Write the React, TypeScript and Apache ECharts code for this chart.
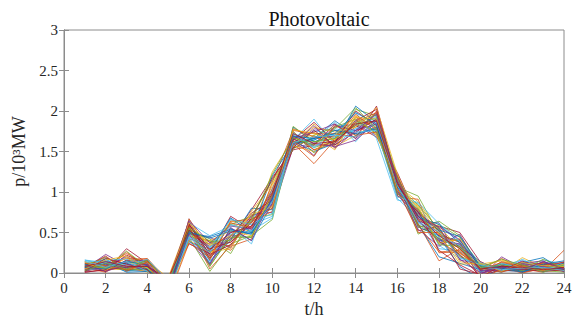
import React, { useEffect, useRef } from "react";
import * as echarts from "echarts";

const hours = [1, 2, 3, 4, 5, 6, 7, 8, 9, 10, 11, 12, 13, 14, 15, 16, 17, 18, 19, 20, 21, 22, 23, 24];

const r1 = [0.06,0.12,0.03,0.08,-0.12,0.55,0.18,0.52,0.48,0.92,1.58,1.66,1.72,1.76,1.90,1.04,0.74,0.41,0.33,0.02,0.06,0.03,0.08,0.04];
const r2 = [0.14,0.03,0.26,0.05,-0.22,0.42,0.36,0.38,0.66,0.80,1.70,1.52,1.60,1.92,1.78,1.15,0.58,0.55,0.20,0.08,0.02,0.10,0.03,0.28];
const r3 = [0.02,0.08,0.10,0.15,-0.06,0.63,0.22,0.60,0.52,1.08,1.62,1.74,1.56,1.70,1.85,0.98,0.82,0.36,0.42,-0.04,0.09,0.04,0.12,0.06];
const r4 = [0.09,0.20,0.05,0.02,-0.28,0.48,0.44,0.31,0.72,0.75,1.55,1.60,1.80,1.84,1.70,1.20,0.63,0.62,0.16,0.11,0.03,0.15,0.02,0.09];
const r5 = [0.04,0.06,0.14,0.10,-0.17,0.58,0.08,0.47,0.44,0.98,1.75,1.48,1.66,2.02,1.94,1.06,0.95,0.48,0.38,0.01,0.12,0.02,0.06,0.03];
const r6 = [0.16,0.10,0.02,0.06,-0.09,0.38,0.30,0.66,0.60,0.70,1.64,1.90,1.58,1.78,1.82,0.92,0.68,0.30,0.27,0.06,0.05,0.08,0.16,0.11];
const r7 = [0.07,0.02,0.30,0.12,-0.33,0.67,0.26,0.42,0.78,1.18,1.52,1.58,1.84,1.66,2.06,1.12,0.52,0.58,0.50,0.13,0.04,0.01,0.05,0.02];
const r8 = [0.11,0.15,0.07,0.04,-0.14,0.52,0.12,0.55,0.40,0.86,1.80,1.62,1.70,1.88,1.74,1.02,0.77,0.44,0.08,-0.08,0.07,0.12,0.09,0.07];
const r9 = [0.03,0.09,0.18,0.17,-0.20,0.45,0.40,0.28,0.58,0.94,1.60,1.35,1.64,1.80,1.88,1.18,0.61,0.15,0.30,0.04,0.18,0.05,0.01,0.12];
const r10 = [0.12,0.05,0.04,0.08,-0.07,0.60,0.20,0.62,0.50,1.25,1.66,1.70,1.52,1.94,1.80,1.08,0.88,0.52,0.24,0.09,0.02,0.19,0.07,0.05];
const r11 = [0.05,0.23,0.09,0.03,-0.25,0.50,0.33,0.45,0.70,0.82,1.57,1.78,1.76,1.72,1.98,0.96,0.70,0.40,0.36,0.00,0.06,0.04,0.14,0.08];
const r12 = [0.08,0.07,0.12,0.14,-0.11,0.44,0.02,0.36,0.46,0.66,1.68,1.55,1.62,1.86,1.76,1.14,0.48,0.60,0.44,0.05,0.10,0.07,0.03,0.01];
const r13 = [0.15,0.11,0.06,0.07,-0.30,0.62,0.46,0.58,0.64,1.02,1.72,1.64,1.86,1.62,1.92,1.00,0.80,0.34,0.18,0.12,0.03,0.02,0.10,0.10];
const r14 = [0.01,0.04,0.22,0.11,-0.15,0.36,0.24,0.70,0.54,0.88,1.54,1.68,1.68,1.82,1.68,1.24,0.66,0.50,0.05,-0.02,0.14,0.09,0.04,0.06];
const r15 = [0.10,0.17,0.03,0.05,-0.19,0.56,0.15,0.40,0.80,0.78,1.63,1.50,1.60,2.06,1.86,1.10,0.57,0.46,0.40,0.07,0.01,0.13,0.19,0.03];
const r16 = [0.06,0.01,0.15,0.18,-0.10,0.50,0.38,0.33,0.42,1.12,1.76,1.72,1.72,1.68,2.00,0.94,0.91,0.25,0.26,0.03,0.08,0.00,0.06,0.14];
const r17 = [0.13,0.13,0.08,0.01,-0.24,0.66,0.28,0.64,0.62,0.84,1.59,1.84,1.54,1.90,1.72,1.16,0.72,0.56,0.14,0.10,0.05,0.11,0.02,0.04];
const r18 = [0.02,0.08,0.20,0.09,-0.08,0.41,0.10,0.50,0.56,0.96,1.67,1.45,1.82,1.76,1.84,1.04,0.64,0.42,0.35,-0.06,0.20,0.06,0.08,0.07];
const r19 = [0.09,0.19,0.05,0.13,-0.27,0.54,0.42,0.24,0.68,0.72,1.81,1.62,1.66,1.84,1.96,1.20,0.56,0.64,0.46,0.08,0.04,0.03,0.11,0.02];
const r20 = [0.04,0.06,0.11,0.06,-0.13,0.47,0.32,0.56,0.36,1.05,1.56,1.76,1.70,1.98,1.66,0.90,0.86,0.38,0.22,0.02,0.09,0.16,0.01,0.09];
const r21 = [0.12,0.02,0.16,0.15,-0.21,0.61,0.18,0.46,0.74,0.90,1.65,1.58,1.58,1.74,1.90,1.06,0.75,0.52,0.32,0.14,0.02,0.05,0.13,0.06];
const r22 = [0.07,0.14,0.01,0.02,-0.05,0.39,0.27,0.68,0.50,1.20,1.61,1.66,1.88,1.70,1.80,1.12,0.60,0.20,0.12,0.04,0.11,0.10,0.05,0.12];
const r23 = [0.05,0.09,0.24,0.10,-0.32,0.58,0.05,0.34,0.64,0.76,1.74,1.52,1.64,1.96,1.76,0.98,0.78,0.47,0.38,-0.10,0.06,0.02,0.09,0.03];
const r24 = [0.14,0.05,0.09,0.07,-0.16,0.46,0.40,0.52,0.46,0.99,1.58,1.80,1.74,1.80,2.04,1.22,0.66,0.58,0.29,0.07,0.16,0.08,0.04,0.08];
const r25 = [0.03,0.12,0.13,0.16,-0.10,0.64,0.21,0.42,0.58,0.84,1.69,1.60,1.56,1.64,1.86,1.02,0.54,0.33,0.48,0.03,0.03,0.12,0.15,0.02];
const r26 = [0.10,0.07,0.04,0.04,-0.26,0.52,0.35,0.60,0.70,1.14,1.53,1.70,1.80,1.90,1.72,1.08,0.84,0.54,0.21,0.10,0.07,0.04,0.06,0.10];
const r27 = [0.08,0.16,0.17,0.12,-0.18,0.43,0.13,0.48,0.52,0.68,1.71,1.56,1.68,1.78,1.94,1.14,0.62,0.45,0.34,0.01,0.12,0.07,0.02,0.05];
const r28 = [0.01,0.04,0.07,0.08,-0.12,0.59,0.30,0.38,0.62,1.00,1.64,1.86,1.62,2.00,1.82,0.96,0.76,0.28,0.10,-0.03,0.04,0.14,0.10,0.13];
const r29 = [0.11,0.10,0.12,0.05,-0.23,0.49,0.45,0.54,0.48,0.92,1.60,1.64,1.76,1.72,1.78,1.18,0.69,0.60,0.37,0.09,0.08,0.02,0.07,0.04];
const r30 = [0.06,0.21,0.02,0.14,-0.07,0.57,0.16,0.64,0.66,0.80,1.78,1.68,1.60,1.86,1.98,1.04,0.50,0.50,0.25,0.06,0.01,0.09,0.12,0.07];
const r31 = [0.13,0.03,0.19,0.03,-0.29,0.40,0.26,0.30,0.76,1.10,1.57,1.50,1.70,1.94,1.70,1.10,0.80,0.37,0.42,0.11,0.15,0.06,0.03,0.11];
const r32 = [0.04,0.11,0.06,0.11,-0.14,0.65,0.37,0.58,0.54,0.86,1.66,1.74,1.84,1.66,1.88,1.00,0.73,0.56,0.17,0.00,0.05,0.11,0.08,0.02];
const r33 = [0.09,0.06,0.27,0.07,-0.19,0.53,0.09,0.44,0.44,0.96,1.62,1.62,1.66,1.82,1.92,1.16,0.60,0.43,0.31,0.05,0.10,0.03,0.17,0.06];
const r34 = [0.16,0.13,0.08,0.17,-0.09,0.45,0.31,0.66,0.60,0.74,1.73,1.54,1.78,1.74,1.76,0.94,0.87,0.61,0.39,0.13,0.03,0.17,0.05,0.09];
const r35 = [0.02,0.18,0.11,0.04,-0.24,0.60,0.23,0.35,0.68,1.16,1.55,1.76,1.58,1.88,2.02,1.12,0.65,0.39,0.23,-0.05,0.09,0.05,0.02,0.04];
const r36 = [0.07,0.05,0.15,0.09,-0.16,0.51,0.43,0.52,0.50,0.90,1.69,1.66,1.72,1.98,1.84,1.06,0.71,0.53,0.45,0.08,0.06,0.01,0.11,0.15];
const r37 = [0.12,0.09,0.04,0.13,-0.31,0.37,0.19,0.62,0.56,1.04,1.63,1.44,1.82,1.70,1.74,1.20,0.59,0.26,0.28,0.04,0.13,0.08,0.06,0.03];
const r38 = [0.05,0.16,0.21,0.06,-0.11,0.62,0.34,0.46,0.72,0.82,1.77,1.72,1.64,1.92,1.90,1.02,0.83,0.49,0.11,0.12,0.02,0.13,0.09,0.08];
const r39 = [0.10,0.02,0.10,0.10,-0.20,0.48,0.11,0.56,0.40,0.94,1.59,1.82,1.54,1.76,1.96,1.14,0.67,0.57,0.41,0.02,0.07,0.04,0.14,0.05];
const r40 = [0.03,0.12,0.05,0.16,-0.13,0.56,0.39,0.40,0.64,1.22,1.67,1.58,1.78,2.04,1.78,0.98,0.79,0.35,0.33,0.07,0.17,0.10,0.01,0.10];
const r41 = [0.14,0.07,0.14,0.02,-0.26,0.44,0.25,0.60,0.52,0.88,1.61,1.68,1.70,1.68,1.86,1.08,0.63,0.51,0.19,0.10,0.04,0.06,0.07,0.03];
const r42 = [0.08,0.14,0.08,0.08,-0.08,0.53,0.29,0.50,0.58,0.98,1.72,1.60,1.62,1.84,1.88,1.10,0.70,0.46,0.30,0.05,0.08,0.07,0.04,0.07];

const scenarios = [r1,r2,r3,r4,r5,r6,r7,r8,r9,r10,r11,r12,r13,r14,r15,r16,r17,r18,r19,r20,r21,r22,r23,r24,r25,r26,r27,r28,r29,r30,r31,r32,r33,r34,r35,r36,r37,r38,r39,r40,r41,r42];

const xTicks = [0, 2, 4, 6, 8, 10, 12, 14, 16, 18, 20, 22, 24];
const yTicks = [0, 0.5, 1, 1.5, 2, 2.5, 3];

const palette = ["#0072BD", "#D95319", "#EDB120", "#7E2F8E", "#77AC30", "#4DBEEE", "#A2142F"];

const FONT = "Liberation Serif";
const AXIS_COLOR = "#8c8c8c";
const TEXT_COLOR = "#262626";

export default function App() {
  const ref = useRef<HTMLDivElement>(null);
  useEffect(() => {
    document.body.style.margin = "0";
    if (!ref.current) return;
    const chart = echarts.init(ref.current, null, { renderer: "svg" });
    const tickStyle = { show: true, inside: true, length: 5, lineStyle: { color: AXIS_COLOR, width: 1 } };
    chart.setOption({
      animation: false,
      color: palette,
      title: {
        text: "Photovoltaic",
        left: 314,
        textAlign: "center",
        top: 4,
        textStyle: { fontFamily: FONT, fontSize: 20, fontWeight: "normal", color: "#111" },
      },
      grid: { left: 64, right: 14, top: 30, bottom: 44, show: true, borderColor: AXIS_COLOR, borderWidth: 1, backgroundColor: "#fff" },
      xAxis: [
        {
          type: "value",
          min: xTicks[0],
          max: xTicks[xTicks.length - 1],
          interval: 2,
          name: "t/h",
          nameLocation: "middle",
          nameGap: 27,
          nameTextStyle: { fontFamily: FONT, fontSize: 18, color: TEXT_COLOR },
          axisLine: { show: true, lineStyle: { color: AXIS_COLOR } },
          axisTick: tickStyle,
          splitLine: { show: false },
          axisLabel: { fontFamily: FONT, fontSize: 15, color: TEXT_COLOR, margin: 7 },
        },
        {
          type: "value",
          position: "top",
          min: xTicks[0],
          max: xTicks[xTicks.length - 1],
          interval: 2,
          axisLine: { show: true, lineStyle: { color: AXIS_COLOR } },
          axisTick: tickStyle,
          splitLine: { show: false },
          axisLabel: { show: false },
        },
      ],
      yAxis: [
        {
          type: "value",
          min: yTicks[0],
          max: yTicks[yTicks.length - 1],
          interval: 0.5,
          name: "p/10³MW",
          nameLocation: "middle",
          nameRotate: 90,
          nameGap: 32,
          nameTextStyle: { fontFamily: FONT, fontSize: 18, color: TEXT_COLOR },
          axisLine: { show: true, lineStyle: { color: AXIS_COLOR } },
          axisTick: tickStyle,
          splitLine: { show: false },
          axisLabel: { fontFamily: FONT, fontSize: 15, color: TEXT_COLOR, margin: 6 },
        },
        {
          type: "value",
          position: "right",
          min: yTicks[0],
          max: yTicks[yTicks.length - 1],
          interval: 0.5,
          axisLine: { show: true, lineStyle: { color: AXIS_COLOR } },
          axisTick: tickStyle,
          splitLine: { show: false },
          axisLabel: { show: false },
        },
      ],
      series: scenarios.map((vals, i) => ({
        type: "line",
        name: "scenario " + (i + 1),
        data: hours.map((h, j) => [h, vals[j]]),
        showSymbol: false,
        symbol: "none",
        clip: true,
        lineStyle: { width: 0.8, color: palette[i % palette.length] },
        xAxisIndex: 0,
        yAxisIndex: 0,
        z: 2,
      })),
    });
    return () => chart.dispose();
  }, []);
  return <div ref={ref} style={{ width: 578, height: 323 }} />;
}
